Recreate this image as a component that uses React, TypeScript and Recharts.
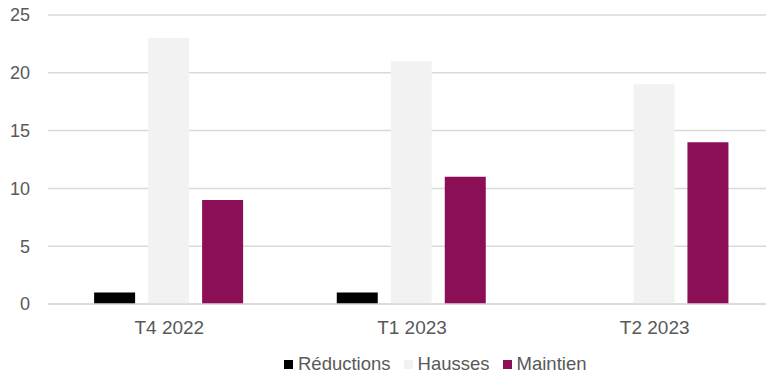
import { BarChart, Bar, XAxis, YAxis, CartesianGrid, Legend } from "recharts";

const quarters = ["T4 2022", "T1 2023", "T2 2023"];
const reductions = [1, 1, 0];
const hausses = [23, 21, 19];
const maintien = [9, 11, 14];
const yTicks = [0, 5, 10, 15, 20, 25];

const series = [
  { key: "reductions", name: "Réductions", color: "#000000" },
  { key: "hausses", name: "Hausses", color: "#f2f2f2" },
  { key: "maintien", name: "Maintien", color: "#8b0e57" },
];

const data = quarters.map((q, i) => ({
  quarter: q,
  reductions: reductions[i],
  hausses: hausses[i],
  maintien: maintien[i],
}));

const font = "'Liberation Sans', Arial, sans-serif";
const textColor = "#595959";

const LegendContent = () => (
  <div style={{ display: "flex", alignItems: "center", fontFamily: font, fontSize: 18.5, color: textColor, lineHeight: "22px" }}>
    {series.map((s) => (
      <div key={s.key} style={{ display: "flex", alignItems: "center", marginRight: 13 }}>
        <span style={{ width: 9, height: 9, background: s.color, display: "inline-block", marginRight: 5 }} />
        <span style={{ whiteSpace: "nowrap" }}>{s.name}</span>
      </div>
    ))}
  </div>
);

export default function App() {
  return (
    <div style={{ position: "absolute", left: 0, top: 0 }}>
      <BarChart
        width={776}
        height={374}
        data={data}
        margin={{ top: 15, right: 0, left: 0, bottom: 0 }}
        barCategoryGap="19%"
        barGap={13}
      >
        <CartesianGrid vertical={false} stroke="#d9d9d9" strokeWidth={1.5} />
        <XAxis
          dataKey="quarter"
          axisLine={{ stroke: "#d9d9d9", strokeWidth: 1.5 }}
          tickLine={false}
          tick={{ fill: textColor, fontSize: 19, fontFamily: font }}
          tickMargin={11}
          height={48}
        />
        <YAxis
          domain={[0, 25]}
          ticks={yTicks}
          width={48}
          axisLine={false}
          tickLine={false}
          tickMargin={12}
          tick={{ fill: textColor, fontSize: 18, fontFamily: font }}
        />
        <Legend
          verticalAlign="bottom"
          content={<LegendContent />}
          wrapperStyle={{ left: 284, width: "auto", bottom: -1 }}
        />
        {series.map((s) => (
          <Bar key={s.key} dataKey={s.key} name={s.name} fill={s.color} isAnimationActive={false} />
        ))}
      </BarChart>
    </div>
  );
}
